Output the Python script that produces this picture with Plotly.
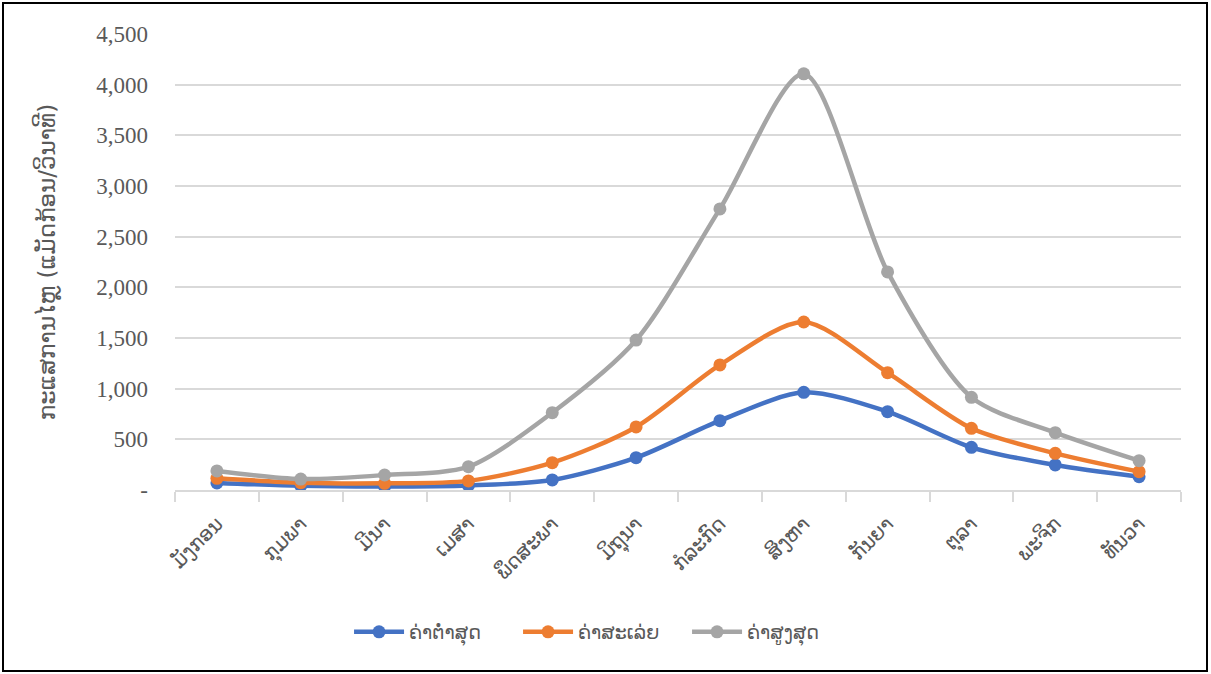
import plotly.graph_objects as go

months = ["ມັງກອນ", "ກຸມພາ", "ມີນາ", "ເມສາ", "ພຶດສະພາ", "ມິຖຸນາ",
          "ກໍລະກົດ", "ສິງຫາ", "ກັນຍາ", "ຕຸລາ", "ພະຈິກ", "ທັນວາ"]
min_vals = [70, 42, 35, 45, 99, 319, 684, 964, 773, 421, 247, 131]
avg_vals = [115, 72, 66, 90, 270, 622, 1234, 1658, 1158, 609, 362, 181]
max_vals = [188, 108, 148, 230, 763, 1480, 2774, 4107, 2152, 915, 566, 289]
series_names = ["ຄ່າຕ່ຳສຸດ", "ຄ່າສະເລ່ຍ", "ຄ່າສູງສຸດ"]
colors = ["#4472C4", "#ED7D31", "#A5A5A5"]
y_ticks = [0, 500, 1000, 1500, 2000, 2500, 3000, 3500, 4000, 4500]
y_tick_text = ["-", "500", "1,000", "1,500", "2,000", "2,500", "3,000", "3,500", "4,000", "4,500"]
y_title = "ກະແສການໄຫຼ (ແມັດກ້ອນ/ວິນາທີ)"

fig = go.Figure()
for name, vals, col in zip(series_names, [min_vals, avg_vals, max_vals], colors):
    fig.add_trace(go.Scatter(
        x=months, y=vals, name=name, mode="lines+markers",
        line=dict(color=col, width=4.5, shape="spline", smoothing=0.8),
        marker=dict(color=col, size=13),
    ))

W, H = 1211, 674
L, R, T, B = 175, 30, 34, 184
pw, ph = W - L - R, H - T - B

def px_x(p):
    return (p - L) / pw

def px_y(p):
    return (H - B - p) / ph

fig.add_shape(type="rect", xref="paper", yref="paper",
              x0=px_x(3), x1=px_x(1207), y0=px_y(671), y1=px_y(3),
              line=dict(color="black", width=2), layer="below")

fig.update_layout(
    width=W, height=H,
    margin=dict(l=L, r=R, t=T, b=B, autoexpand=False),
    plot_bgcolor="white", paper_bgcolor="white",
    showlegend=True,
    legend=dict(orientation="h", x=0.425, xanchor="center", y=px_y(632), yanchor="middle",
                font=dict(family="DejaVu Sans, Noto Sans", size=19, color="#595959"),
                itemwidth=50, entrywidth=104, entrywidthmode="pixels", traceorder="normal"),
    xaxis=dict(
        type="category", range=[-0.5, 11.5], tickangle=-45,
        tickson="boundaries", ticks="outside", ticklen=10, tickcolor="#D9D9D9", tickwidth=2,
        showline=True, linecolor="#D9D9D9", linewidth=2, showgrid=False,
        ticklabelstandoff=12,
        tickfont=dict(family="DejaVu Sans, Noto Sans", size=20, color="#595959"),
    ),
    yaxis=dict(
        range=[0, 4500], tickvals=y_ticks, ticktext=y_tick_text,
        showgrid=True, gridcolor="#D9D9D9", gridwidth=2, zeroline=False,
        showline=False, ticks="", ticklabelstandoff=26,
        tickfont=dict(family="Liberation Serif", size=23, color="#595959"),
        title=dict(text=y_title, standoff=34,
                   font=dict(family="DejaVu Sans, Noto Sans", size=23, color="#595959", weight="normal")),
    ),
)

fig.write_html("out.html", config={"displayModeBar": False},
               post_script="document.body.style.margin='0';document.body.style.overflow='hidden';")
